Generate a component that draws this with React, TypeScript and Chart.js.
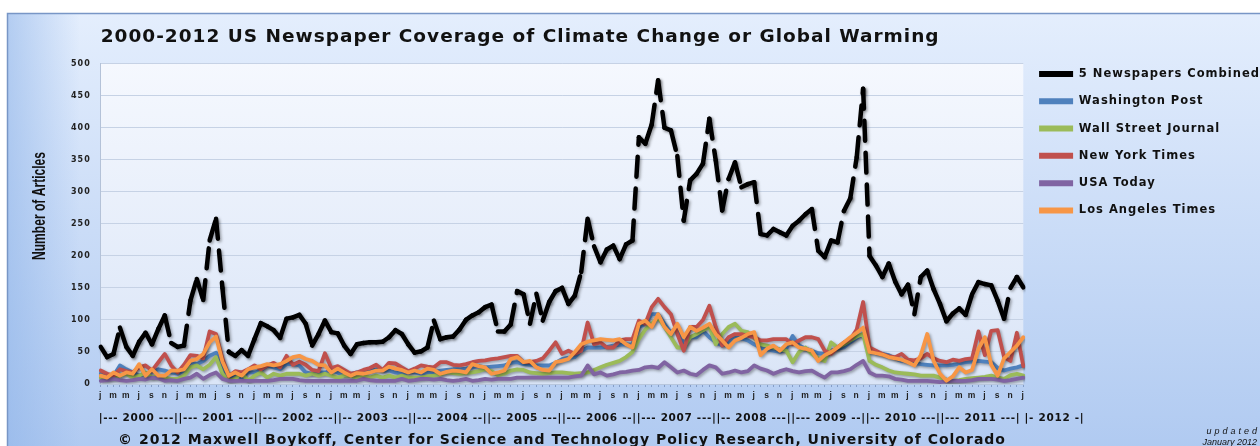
import { useEffect, useRef } from 'react';
import { Chart, registerables } from 'chart.js';

Chart.register(...registerables);

const monthInitials = ['j', 'f', 'm', 'a', 'm', 'j', 'j', 'a', 's', 'o', 'n', 'd'];
const years = [2000, 2001, 2002, 2003, 2004, 2005, 2006, 2007, 2008, 2009, 2010, 2011];
const categories = [...years.flatMap((y) => monthInitials.map((m) => `${m} ${y}`)), 'j 2012'];

const combined = [
  58, 42, 47, 88, 58, 44, 66, 80, 62, 86, 107, 64,
  58, 60, 130, 164, 131, 224, 258, 150, 50, 44, 53, 44,
  70, 95, 90, 84, 72, 102, 104, 108, 94, 60, 78, 99,
  81, 79, 60, 47, 62, 64, 65, 65, 66, 73, 84, 78,
  62, 49, 51, 57, 99, 70, 73, 74, 85, 100, 107, 112,
  120, 124, 82, 82, 93, 145, 140, 94, 141, 99, 128, 145,
  150, 125, 138, 175, 258, 215, 190, 210, 216, 195, 218, 224,
  385, 375, 405, 474, 400, 396, 356, 255, 318, 328, 344, 414,
  349, 271, 320, 346, 307, 312, 315, 234, 232, 242, 237, 232,
  247, 255, 265, 273, 208, 198, 224, 221, 270, 290, 354, 461,
  200, 185, 167, 188, 160, 140, 155, 109, 167, 177, 148, 125,
  98, 110, 118, 108, 140, 159, 156, 154, 130, 102, 150, 167,
  151,
];

const washingtonPost = [
  16, 13, 13, 29, 23, 18, 13, 16, 20, 23, 21, 18,
  16, 21, 34, 31, 36, 44, 49, 26, 10, 16, 10, 18,
  18, 21, 29, 26, 23, 31, 31, 29, 18, 16, 18, 18,
  21, 18, 13, 16, 18, 18, 21, 23, 21, 21, 18, 16,
  18, 18, 16, 18, 18, 21, 22, 23, 23, 24, 26, 28,
  26, 27, 28, 29, 33, 34, 31, 30, 29, 29, 29, 33,
  39, 41, 42, 52, 57, 57, 57, 58, 60, 61, 62, 62,
  89, 94, 109, 109, 94, 80, 89, 62, 73, 73, 83, 73,
  65, 60, 66, 73, 71, 68, 62, 57, 54, 52, 50, 55,
  75, 60, 55, 52, 48, 47, 52, 55, 57, 65, 72, 78,
  50, 48, 47, 45, 40, 36, 35, 33, 31, 30, 29, 29,
  29, 30, 32, 34, 35, 36, 35, 34, 25, 21, 24, 26,
  29,
];

const wallStreetJournal = [
  10, 8, 10, 13, 16, 10, 13, 18, 10, 13, 10, 8,
  8, 13, 26, 29, 23, 30, 42, 16, 5, 8, 18, 5,
  13, 18, 10, 16, 13, 16, 16, 16, 13, 16, 13, 16,
  13, 10, 13, 13, 10, 13, 10, 13, 10, 13, 10, 13,
  10, 10, 10, 12, 13, 15, 18, 17, 16, 17, 18, 20,
  23, 20, 14, 16, 21, 23, 22, 18, 17, 16, 17, 18,
  18, 17, 16, 17, 18, 22, 26, 30, 33, 36, 42, 50,
  70, 85, 94, 104, 89, 73, 57, 57, 73, 78, 84, 89,
  62, 78, 89, 94, 83, 81, 72, 62, 60, 57, 54, 52,
  34, 50, 57, 47, 40, 36, 65, 57, 62, 68, 74, 78,
  36, 30, 26, 21, 18, 17, 16, 15, 13, 13, 13, 10,
  7, 5, 6, 8, 9, 10, 11, 13, 10, 8, 14, 16,
  13,
];

const newYorkTimes = [
  21, 16, 13, 23, 20, 18, 26, 29, 21, 34, 47, 29,
  18, 30, 45, 44, 40, 82, 78, 40, 12, 20, 18, 23,
  29, 23, 29, 33, 26, 44, 30, 35, 30, 22, 20, 48,
  25, 28, 22, 16, 18, 22, 25, 30, 22, 33, 32, 26,
  20, 24, 29, 27, 26, 34, 34, 30, 29, 31, 34, 36,
  37, 39, 40, 42, 44, 44, 34, 34, 36, 40, 52, 65,
  47, 52, 47, 52, 96, 62, 65, 57, 57, 68, 70, 70,
  99, 94, 120, 133, 120, 109, 78, 52, 89, 89, 100, 122,
  89, 60, 73, 78, 78, 75, 73, 68, 68, 70, 70, 70,
  62, 68, 73, 73, 70, 52, 47, 57, 65, 70, 85, 128,
  57, 52, 47, 43, 42, 47, 38, 37, 40, 47, 40, 36,
  34, 38, 36, 39, 40, 82, 45, 83, 84, 42, 36, 80,
  28,
];

const usaToday = [
  5, 6, 8, 6, 5, 6, 8, 7, 10, 9, 5, 6,
  5, 8, 10, 16, 8, 14, 18, 8, 5, 5, 5, 5,
  5, 5, 5, 6, 8, 8, 8, 6, 5, 5, 5, 5,
  5, 5, 5, 5, 5, 8, 6, 5, 5, 5, 5, 8,
  5, 6, 8, 8, 7, 8, 6, 5, 6, 8, 5, 6,
  8, 7, 8, 8, 8, 10, 10, 10, 10, 10, 10, 10,
  10, 10, 12, 13, 29, 15, 18, 13, 15, 18, 19, 21,
  22, 26, 27, 25, 34, 26, 18, 21, 16, 14, 22, 29,
  26, 16, 18, 21, 18, 20, 29, 24, 21, 16, 20, 23,
  20, 18, 20, 21, 15, 10, 18, 18, 20, 23, 30, 36,
  18, 13, 13, 12, 8, 7, 5, 5, 5, 5, 4, 3,
  4, 5, 5, 5, 6, 8, 8, 8, 7, 5, 6, 8,
  10,
];

const laTimes = [
  13, 10, 18, 13, 18, 16, 31, 13, 23, 13, 13, 21,
  21, 23, 36, 39, 47, 65, 74, 35, 13, 18, 13, 23,
  26, 28, 31, 29, 31, 36, 42, 44, 39, 36, 30, 29,
  18, 24, 18, 13, 17, 16, 18, 21, 21, 27, 24, 22,
  18, 21, 18, 24, 22, 16, 19, 21, 20, 18, 31, 28,
  26, 16, 18, 21, 39, 42, 34, 36, 26, 22, 21, 34,
  36, 39, 50, 62, 66, 68, 70, 69, 68, 70, 62, 57,
  94, 99, 89, 109, 89, 78, 94, 73, 89, 83, 88, 94,
  78, 68, 57, 68, 72, 78, 81, 45, 55, 60, 52, 62,
  65, 57, 55, 52, 36, 45, 50, 57, 65, 73, 80, 88,
  50, 48, 46, 42, 40, 38, 34, 29, 45, 78, 36, 16,
  5, 12, 26, 18, 22, 55, 73, 30, 13, 40, 50, 60,
  73,
];

const seriesNames = [
  '5 Newspapers Combined',
  'Washington Post',
  'Wall Street Journal',
  'New York Times',
  'USA Today',
  'Los Angeles Times',
];
const seriesColors = ['#000000', '#4F81BD', '#9BBB59', '#C0504D', '#8064A2', '#F79646'];
const seriesValues = [combined, washingtonPost, wallStreetJournal, newYorkTimes, usaToday, laTimes];
const drawOrder = [0, 5, 4, 3, 2, 1];

const yMin = 0;
const yMax = 500;
const yStep = 50;

const titleText = '2000-2012 US Newspaper Coverage of Climate Change or Global Warming';
const yAxisTitle = 'Number of Articles';
const yearRow =
  '|--- 2000 ---||--- 2001 ---||--- 2002 ---||-- 2003 ---||--- 2004 --||-- 2005 ---||--- 2006 --||--- 2007 ---||-- 2008 ---||--- 2009 --||-- 2010 ---||--- 2011 ---| |- 2012 -|';
const copyrightText =
  '© 2012 Maxwell Boykoff, Center for Science and Technology Policy Research, University of Colorado';
const updatedLines = ['updated', 'January 2012'];

const CANVAS_W = 1270;
const CANVAS_H = 450;

const decorPlugin = {
  id: 'decor',
  beforeUpdate(chart: any) {
    chart.ctx.letterSpacing = '1px';
  },
  beforeLayout(chart: any) {
    chart.ctx.letterSpacing = '1px';
  },
  beforeDraw(chart: any) {
    const { ctx, chartArea: ca, width, height } = chart;
    ctx.letterSpacing = '1px';
    ctx.save();
    const g = ctx.createLinearGradient(0, 13, 0, height);
    g.addColorStop(0, '#e4eefd');
    g.addColorStop(1, '#b0caf1');
    ctx.fillStyle = g;
    ctx.fillRect(7, 13, width - 7, height - 13);
    const gl = ctx.createLinearGradient(8, 0, 80, 0);
    gl.addColorStop(0, 'rgba(140,178,232,0.55)');
    gl.addColorStop(1, 'rgba(140,178,232,0)');
    ctx.fillStyle = gl;
    ctx.fillRect(8, 14, 72, height - 14);
    ctx.strokeStyle = '#7896c6';
    ctx.lineWidth = 1.5;
    ctx.beginPath();
    ctx.moveTo(7.5, height);
    ctx.lineTo(7.5, 13.5);
    ctx.lineTo(width, 13.5);
    ctx.stroke();
    const gp = ctx.createLinearGradient(0, ca.top, 0, ca.bottom);
    gp.addColorStop(0, '#f5f8fe');
    gp.addColorStop(1, '#dae5f7');
    ctx.fillStyle = gp;
    ctx.fillRect(ca.left, ca.top, ca.right - ca.left, ca.bottom - ca.top);
    ctx.restore();
  },
  beforeDatasetsDraw(chart: any) {
    const ctx = chart.ctx;
    ctx.save();
    ctx.shadowColor = 'rgba(0,0,0,0.35)';
    ctx.shadowBlur = 3;
    ctx.shadowOffsetX = 1.5;
    ctx.shadowOffsetY = 1.5;
  },
  afterDatasetsDraw(chart: any) {
    chart.ctx.restore();
  },
  afterDraw(chart: any) {
    const { ctx, chartArea: ca } = chart;
    ctx.save();
    ctx.fillStyle = '#111111';
    ctx.textBaseline = 'middle';
    // year row
    ctx.letterSpacing = '0.67px';
    ctx.font = 'bold 10.5px "DejaVu Sans", sans-serif';
    ctx.textAlign = 'left';
    ctx.fillText(yearRow, ca.left - 2, ca.bottom + 34);
    // y axis title
    ctx.save();
    ctx.letterSpacing = '0px';
    ctx.font = 'bold 17.5px "Liberation Sans", sans-serif';
    ctx.translate(40, 206);
    ctx.rotate(-Math.PI / 2);
    ctx.textAlign = 'center';
    ctx.fillText(yAxisTitle, 0, 0, 108);
    ctx.restore();
    // updated note
    ctx.font = 'italic 9px "Liberation Sans", sans-serif';
    ctx.textAlign = 'right';
    ctx.letterSpacing = '3px';
    ctx.fillText(updatedLines[0], 1257 + 3, 431);
    ctx.letterSpacing = '0px';
    ctx.fillText(updatedLines[1], 1257, 442);
    ctx.restore();
  },
};

export default function App() {
  const ref = useRef<HTMLCanvasElement | null>(null);

  useEffect(() => {
    if (!ref.current) return;
    const datasets = seriesNames.map((name, i) => {
      const isCombined = i === 0;
      return {
        label: name,
        data: seriesValues[i],
        borderColor: seriesColors[i],
        backgroundColor: seriesColors[i],
        borderWidth: isCombined ? 4.5 : 3.8,
        pointRadius: 0,
        pointHoverRadius: 0,
        tension: 0,
        fill: false,
        borderCapStyle: 'round' as const,
        borderJoinStyle: 'round' as const,
        borderDash: isCombined ? [20, 12] : [],
        order: drawOrder[i],
        segment: isCombined
          ? { borderDashOffset: (c: any) => (c.p0DataIndex % 2 ? 0.001 : 0) }
          : undefined,
      };
    });

    const chart = new Chart(ref.current, {
      type: 'line',
      data: { labels: categories, datasets },
      plugins: [decorPlugin],
      options: {
        responsive: false,
        animation: false,
        devicePixelRatio: 1,
        layout: { padding: { left: 61, right: 0, top: 0, bottom: 0 } },
        plugins: {
          title: {
            display: true,
            text: titleText,
            align: 'start',
            fullSize: false,
            color: '#111111',
            font: { family: '"DejaVu Sans", sans-serif', weight: 'bold', size: 18.5 },
            padding: { top: 26.5, bottom: 15 },
          },
          subtitle: {
            display: true,
            text: copyrightText,
            position: 'bottom',
            align: 'center',
            fullSize: false,
            color: '#111111',
            font: { family: '"DejaVu Sans", sans-serif', weight: 'bold', size: 14 },
            padding: { top: 27, bottom: 1 },
          },
          legend: {
            display: true,
            position: 'right',
            align: 'start',
            fullSize: true,
            title: { display: true, text: '', padding: { top: 38, bottom: 0 } },
            labels: {
              boxWidth: 34,
              boxHeight: 6,
              padding: 15.8,
              color: '#111111',
              font: { family: '"DejaVu Sans", sans-serif', weight: 'bold', size: 11.5 },
              sort: (a: any, b: any) => a.datasetIndex - b.datasetIndex,
              generateLabels: (c: any) =>
                (Chart.defaults.plugins.legend.labels.generateLabels as any)(c).map((item: any) => ({
                  ...item,
                  fillStyle: item.strokeStyle,
                  lineWidth: 0,
                })),
            },
          },
          tooltip: { enabled: false },
        },
        scales: {
          x: {
            type: 'category',
            grid: {
              display: true,
              drawOnChartArea: false,
              drawTicks: true,
              tickLength: 3,
              color: 'rgba(110,135,180,0.7)',
            },
            border: { display: true, color: '#b7c6dc' },
            ticks: {
              autoSkip: false,
              maxRotation: 0,
              minRotation: 0,
              padding: 4,
              color: '#222222',
              font: { family: '"Liberation Sans", sans-serif', weight: 'bold', size: 8.5 },
              callback: (_v: any, index: number) => (index % 2 === 0 ? categories[index].charAt(0) : ''),
            },
          },
          y: {
            min: yMin,
            max: yMax,
            grid: { color: '#c6d2e5', drawTicks: false },
            border: { display: true, color: '#b4c2d8' },
            ticks: {
              stepSize: yStep,
              padding: 10,
              color: '#222222',
              font: { family: '"DejaVu Sans", sans-serif', weight: 'bold', size: 8 },
            },
          },
        },
      } as any,
    });
    return () => chart.destroy();
  }, []);

  return (
    <div
      style={{
        position: 'fixed',
        left: 0,
        top: 0,
        width: 1260,
        height: 446,
        overflow: 'hidden',
        background: '#ffffff',
      }}
    >
      <canvas
        ref={ref}
        width={CANVAS_W}
        height={CANVAS_H}
        style={{ display: 'block', width: CANVAS_W, height: CANVAS_H }}
      />
    </div>
  );
}
